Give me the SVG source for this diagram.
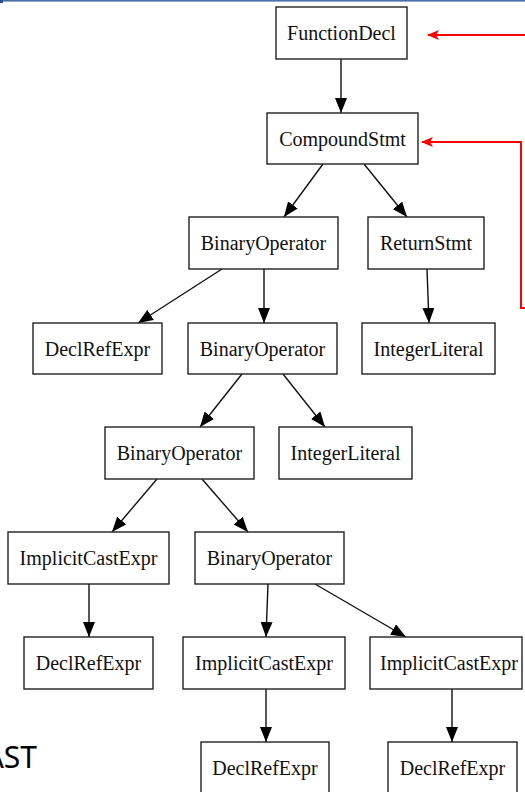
<svg xmlns="http://www.w3.org/2000/svg" width="525" height="792" viewBox="0 0 525 792">
<defs>
<style>
.box{fill:#fff;stroke:#222;stroke-width:1.4}
.lbl{font-family:"Liberation Serif","Times New Roman",serif;font-size:20px;fill:#111;text-anchor:middle}
.edge{stroke:#111;stroke-width:1.4;fill:none}
.red{stroke:#f00;stroke-width:2;fill:none}
</style>
<marker id="ah" markerUnits="userSpaceOnUse" markerWidth="15" markerHeight="12" refX="15" refY="6" orient="auto">
<path d="M0,0 L15,6 L0,12 z" fill="#000"/>
</marker>
<marker id="rh" markerUnits="userSpaceOnUse" markerWidth="12" markerHeight="10" refX="11" refY="5" orient="auto">
<path d="M0,0 L12,5 L0,10 L3,5 z" fill="#f00"/>
</marker>
</defs>
<rect x="0" y="0" width="525" height="792" fill="#fff"/>
<rect x="0" y="0" width="525" height="1.6" fill="#4a70a8"/>
<rect x="0" y="0" width="3" height="3" fill="#2f4f80"/>

<g id="connectors">
<line class="edge" x1="341" y1="59" x2="341" y2="113" marker-end="url(#ah)"/>
<line class="edge" x1="323" y1="164" x2="284" y2="217" marker-end="url(#ah)"/>
<line class="edge" x1="364" y1="164" x2="407" y2="217" marker-end="url(#ah)"/>
<line class="edge" x1="222" y1="269" x2="138" y2="323" marker-end="url(#ah)"/>
<line class="edge" x1="264" y1="269" x2="264" y2="323" marker-end="url(#ah)"/>
<line class="edge" x1="427" y1="269" x2="429" y2="323" marker-end="url(#ah)"/>
<line class="edge" x1="242" y1="374" x2="200" y2="427" marker-end="url(#ah)"/>
<line class="edge" x1="283" y1="374" x2="325" y2="427" marker-end="url(#ah)"/>
<line class="edge" x1="157" y1="479" x2="112" y2="532" marker-end="url(#ah)"/>
<line class="edge" x1="202" y1="479" x2="248" y2="532" marker-end="url(#ah)"/>
<line class="edge" x1="89" y1="584" x2="89" y2="637" marker-end="url(#ah)"/>
<line class="edge" x1="268" y1="584" x2="266" y2="637" marker-end="url(#ah)"/>
<line class="edge" x1="315" y1="584" x2="406" y2="637" marker-end="url(#ah)"/>
<line class="edge" x1="266" y1="689" x2="266" y2="742" marker-end="url(#ah)"/>
<line class="edge" x1="452" y1="689" x2="452" y2="742" marker-end="url(#ah)"/>
<polyline class="red" points="526,35 428,35" marker-end="url(#rh)"/>
<polyline class="red" points="526,308 521,308 521,142 422,142" marker-end="url(#rh)"/>
</g>

<g id="n_functiondecl"><rect class="box" x="276" y="7" width="131" height="52"/><text class="lbl" x="341.5" y="40">FunctionDecl</text></g>
<g id="n_compoundstmt"><rect class="box" x="267" y="113" width="151" height="51"/><text class="lbl" x="342.5" y="145.5">CompoundStmt</text></g>
<g id="n_binop1"><rect class="box" x="189" y="217" width="149" height="52"/><text class="lbl" x="263.5" y="250">BinaryOperator</text></g>
<g id="n_returnstmt"><rect class="box" x="368" y="217" width="116" height="52"/><text class="lbl" x="426" y="250">ReturnStmt</text></g>
<g id="n_declref1"><rect class="box" x="33" y="323" width="129" height="51"/><text class="lbl" x="97.5" y="355.5">DeclRefExpr</text></g>
<g id="n_binop2"><rect class="box" x="188" y="323" width="149" height="51"/><text class="lbl" x="262.5" y="355.5">BinaryOperator</text></g>
<g id="n_intlit1"><rect class="box" x="362" y="323" width="133" height="51"/><text class="lbl" x="428.5" y="355.5">IntegerLiteral</text></g>
<g id="n_binop3"><rect class="box" x="105" y="427" width="149" height="52"/><text class="lbl" x="179.5" y="460">BinaryOperator</text></g>
<g id="n_intlit2"><rect class="box" x="279" y="427" width="133" height="52"/><text class="lbl" x="345.5" y="460">IntegerLiteral</text></g>
<g id="n_ice1"><rect class="box" x="8" y="532" width="161" height="52"/><text class="lbl" x="88.5" y="565">ImplicitCastExpr</text></g>
<g id="n_binop4"><rect class="box" x="195" y="532" width="149" height="52"/><text class="lbl" x="269.5" y="565">BinaryOperator</text></g>
<g id="n_declref2"><rect class="box" x="24" y="637" width="129" height="52"/><text class="lbl" x="88.5" y="670">DeclRefExpr</text></g>
<g id="n_ice2"><rect class="box" x="183" y="637" width="162" height="52"/><text class="lbl" x="264" y="670">ImplicitCastExpr</text></g>
<g id="n_ice3"><rect class="box" x="370" y="637" width="152" height="52"/><text class="lbl" x="449" y="670">ImplicitCastExpr</text></g>
<g id="n_declref3"><rect class="box" x="201" y="742" width="128" height="52"/><text class="lbl" x="265" y="775">DeclRefExpr</text></g>
<g id="n_declref4"><rect class="box" x="388" y="742" width="129" height="52"/><text class="lbl" x="452.5" y="775">DeclRefExpr</text></g>

<text x="37" y="768" font-family="'Noto Sans','Open Sans',sans-serif" font-size="30" fill="#000" text-anchor="end">AST</text>
</svg>
